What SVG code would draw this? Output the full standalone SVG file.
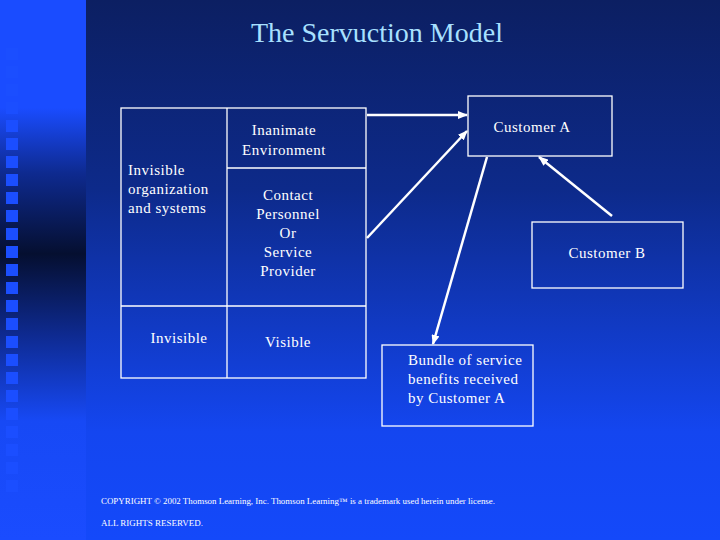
<svg xmlns="http://www.w3.org/2000/svg" width="720" height="540" viewBox="0 0 720 540">
<defs>
<linearGradient id="bgMain" x1="0" y1="0" x2="0" y2="1">
<stop offset="0" stop-color="#0c1f62"/>
<stop offset="0.35" stop-color="#0d2a8a"/>
<stop offset="0.8" stop-color="#1446f0"/>
<stop offset="1" stop-color="#1449fa"/>
</linearGradient>
<linearGradient id="bgLeft" x1="0" y1="0" x2="0" y2="1">
<stop offset="0" stop-color="#1a4cff"/>
<stop offset="0.2" stop-color="#1a4cff"/>
<stop offset="0.32" stop-color="#0e2a90"/>
<stop offset="0.47" stop-color="#050f30"/>
<stop offset="0.62" stop-color="#0e2a90"/>
<stop offset="0.78" stop-color="#1749f5"/>
<stop offset="1" stop-color="#1a4cff"/>
</linearGradient>
<marker id="ah" markerWidth="10" markerHeight="8" refX="9" refY="4" orient="auto" markerUnits="userSpaceOnUse">
<path d="M0,0 L10,4 L0,8 Z" fill="#ffffff"/>
</marker>
<pattern id="sq" x="6" y="12" width="12" height="18" patternUnits="userSpaceOnUse">
<rect x="0" y="0" width="12" height="12" fill="#1b4eff"/>
</pattern>
</defs>
<style>
.box{fill:none;stroke:#ffffff;stroke-width:1.3}
.t{font-family:"Liberation Serif","Times New Roman",serif;font-size:15px;letter-spacing:0.5px;fill:#ffffff}
.c{text-anchor:middle}
.conn{stroke:#ffffff;stroke-width:2.5;fill:none}
.cp{font-family:"Liberation Serif","Times New Roman",serif;font-size:8px;fill:#ffffff}
</style>
<rect x="0" y="0" width="720" height="540" fill="url(#bgMain)"/>
<rect x="0" y="0" width="86" height="540" fill="url(#bgLeft)"/>
<rect x="6" y="48" width="12" height="444" fill="url(#sq)"/>
<text x="377" y="42" text-anchor="middle" font-family="Liberation Serif,'Times New Roman',serif" font-size="28" fill="#a8e0ff">The Servuction Model</text>

<g id="servuction-box">
<rect class="box" x="121" y="108" width="245" height="270"/>
<line class="box" x1="227" y1="108" x2="227" y2="378"/>
<line class="box" x1="227" y1="168" x2="366" y2="168"/>
<line class="box" x1="121" y1="306" x2="366" y2="306"/>
</g>
<g id="inanimate">
<text class="t c" x="284" y="135">Inanimate</text>
<text class="t c" x="284" y="155">Environment</text>
</g>
<g id="invisible-org">
<text class="t" x="128" y="175">Invisible</text>
<text class="t" x="128" y="194">organization</text>
<text class="t" x="128" y="213">and systems</text>
</g>
<g id="contact">
<text class="t c" x="288" y="200">Contact</text>
<text class="t c" x="288" y="219">Personnel</text>
<text class="t c" x="288" y="238">Or</text>
<text class="t c" x="288" y="257">Service</text>
<text class="t c" x="288" y="276">Provider</text>
</g>
<g id="invisible">
<text class="t c" x="179" y="343">Invisible</text>
</g>
<g id="visible">
<text class="t c" x="288" y="347">Visible</text>
</g>
<g id="customer-a">
<rect class="box" x="468" y="96" width="144" height="60"/>
<text class="t c" x="532" y="132">Customer A</text>
</g>
<g id="customer-b">
<rect class="box" x="532" y="222" width="151" height="66"/>
<text class="t c" x="607" y="258">Customer B</text>
</g>
<g id="bundle">
<rect class="box" x="382" y="345" width="151" height="81"/>
<text class="t" x="408" y="365">Bundle of service</text>
<text class="t" x="408" y="384">benefits received</text>
<text class="t" x="408" y="403">by Customer A</text>
</g>
<g id="connectors">
<line class="conn" x1="367" y1="115" x2="467" y2="115" marker-end="url(#ah)"/>
<line class="conn" x1="367" y1="238" x2="467" y2="131" marker-end="url(#ah)"/>
<line class="conn" x1="487" y1="157" x2="433" y2="344" marker-end="url(#ah)"/>
<line class="conn" x1="612" y1="216" x2="539" y2="157" marker-end="url(#ah)"/>
</g>
<text class="cp" x="101" y="504" textLength="394" lengthAdjust="spacingAndGlyphs">COPYRIGHT © 2002 Thomson Learning, Inc. Thomson Learning™ is a trademark used herein under license.</text>
<text class="cp" x="101" y="526" textLength="102" lengthAdjust="spacingAndGlyphs">ALL RIGHTS RESERVED.</text>
</svg>
